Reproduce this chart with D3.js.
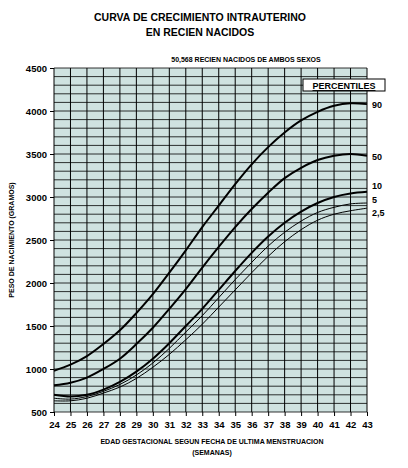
<!DOCTYPE html>
<html><head><meta charset="utf-8">
<script src="https://cdn.jsdelivr.net/npm/d3@7"></script>
<style>body{margin:0;background:#fff}text{font-family:"Liberation Sans",Arial,sans-serif;font-weight:bold}</style>
</head><body><svg id="c" width="408" height="468"></svg>
<script>
var weeks = d3.range(24, 44);
var p90 = [980,1050,1150,1290,1450,1650,1870,2120,2380,2650,2900,3150,3380,3580,3750,3890,3990,4060,4090,4080];
var p50 = [810,840,900,1000,1120,1290,1480,1700,1930,2180,2420,2650,2860,3050,3220,3340,3430,3480,3500,3480];
var p10 = [700,680,700,760,850,970,1120,1300,1500,1700,1920,2140,2350,2540,2700,2830,2930,3000,3040,3060];
var p5 = [660,650,680,740,820,930,1070,1240,1430,1620,1830,2040,2240,2430,2590,2720,2820,2880,2920,2930];
var p25 = [630,630,660,720,790,890,1020,1170,1340,1520,1720,1920,2120,2310,2480,2620,2730,2800,2840,2870];
var series = [
  {name: '90', values: p90, w: 2, dy: 0},
  {name: '50', values: p50, w: 2, dy: 0},
  {name: '10', values: p10, w: 2, dy: -7},
  {name: '5', values: p5, w: 1, dy: -4},
  {name: '2,5', values: p25, w: 1, dy: 4}
];

var svg = d3.select('#c');
var x = d3.scaleLinear().domain([24, 43]).range([54, 367]);
var y = d3.scaleLinear().domain([500, 4500]).range([412, 68]);

svg.append('rect').attr('x', 54).attr('y', 68).attr('width', 313).attr('height', 344).attr('fill', '#cfe2e0');

// grid
svg.selectAll('.hg').data(d3.range(500, 4501, 100)).enter().append('line')
  .attr('x1', 54).attr('x2', 367).attr('y1', y).attr('y2', y)
  .attr('stroke', '#000').attr('stroke-width', 0.8);
svg.selectAll('.vg').data(weeks).enter().append('line')
  .attr('y1', 68).attr('y2', 412).attr('x1', x).attr('x2', x)
  .attr('stroke', '#000').attr('stroke-width', 1);

var ya = svg.append('g').attr('transform', 'translate(54,0)')
  .call(d3.axisLeft(y).tickValues(d3.range(500, 4501, 500)).tickFormat(d3.format('d')).tickSize(4));
ya.select('.domain').remove();
var xa = svg.append('g').attr('transform', 'translate(0,412)')
  .call(d3.axisBottom(x).tickValues(weeks).tickFormat(d3.format('d')).tickSize(4));
xa.select('.domain').remove();
svg.selectAll('.tick text').style('font-size', '9.5px').style('font-weight', 'bold');
xa.selectAll('.tick text').attr('dy', '0.9em');

var line = d3.line().x(function (d, i) { return x(weeks[i]); }).y(function (d) { return y(d); }).curve(d3.curveCatmullRom);
series.forEach(function (s) {
  svg.append('path').attr('d', line(s.values)).attr('fill', 'none')
    .attr('stroke', '#000').attr('stroke-width', s.w);
  svg.append('text').attr('x', 372).attr('y', y(s.values[19]) + s.dy + 4)
    .style('font-size', '9px').text(s.name);
});

// legend box
svg.append('rect').attr('x', 303).attr('y', 79).attr('width', 82).attr('height', 12)
  .attr('fill', '#fff').attr('stroke', '#000');
svg.append('text').attr('x', 344).attr('y', 89).attr('text-anchor', 'middle')
  .style('font-size', '9px').style('text-decoration', 'underline').text('PERCENTILES');

svg.append('text').attr('x', 200).attr('y', 21).attr('text-anchor', 'middle').style('font-size', '10.5px').text('CURVA DE CRECIMIENTO INTRAUTERINO');
svg.append('text').attr('x', 200).attr('y', 36).attr('text-anchor', 'middle').style('font-size', '10.5px').text('EN RECIEN NACIDOS');
svg.append('text').attr('x', 246).attr('y', 62).attr('text-anchor', 'middle').style('font-size', '7px').text('50,568 RECIEN NACIDOS DE AMBOS SEXOS');
svg.append('text').attr('x', 212).attr('y', 444).attr('text-anchor', 'middle').style('font-size', '7px').text('EDAD GESTACIONAL SEGUN FECHA DE ULTIMA MENSTRUACION');
svg.append('text').attr('x', 212).attr('y', 455).attr('text-anchor', 'middle').style('font-size', '7px').text('(SEMANAS)');
svg.append('text').attr('transform', 'translate(14,240) rotate(-90)').attr('text-anchor', 'middle').style('font-size', '7px').text('PESO DE NACIMIENTO (GRAMOS)');
</script></body></html>
